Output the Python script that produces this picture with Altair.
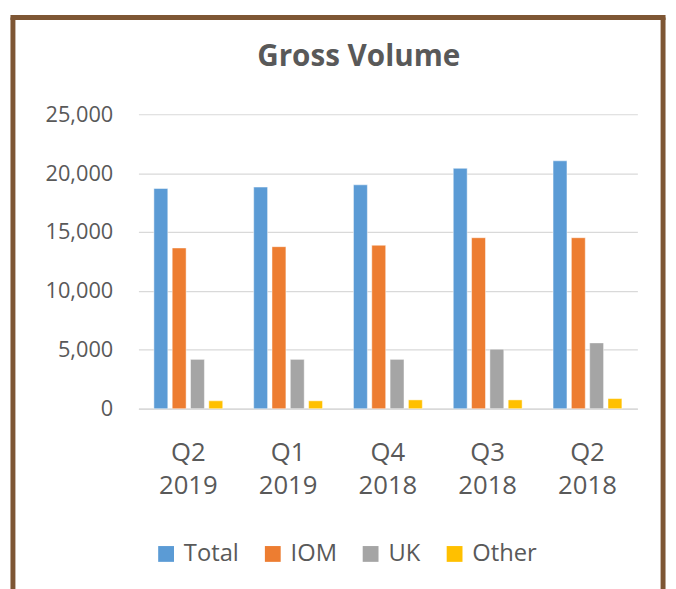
import altair as alt
import pandas as pd

quarters = ["Q2 2019", "Q1 2019", "Q4 2018", "Q3 2018", "Q2 2018"]
series = ["Total", "IOM", "UK", "Other"]
total = [18700, 18820, 19010, 20410, 21050]
iom = [13650, 13760, 13880, 14520, 14520]
uk = [4190, 4190, 4190, 5050, 5590]
other = [670, 670, 750, 750, 860]
colors = ["#5B9BD5", "#ED7D31", "#A5A5A5", "#FFC000"]
title_text = "Gross Volume"

rows = []
for i, q in enumerate(quarters):
    for s, vals in zip(series, [total, iom, uk, other]):
        rows.append({"quarter": q, "series": s, "value": vals[i]})
df = pd.DataFrame(rows)

W, H = 505, 298
FONT = "Open Sans"
TXT = "#595959"

bars = alt.Chart(df).mark_bar(stroke="white", strokeWidth=0.8, strokeOpacity=0.6).encode(
    x=alt.X("quarter:N", sort=quarters, title=None,
            scale=alt.Scale(paddingInner=0.31, paddingOuter=0.155),
            axis=alt.Axis(labelAngle=0, labelExpr="split(datum.label, ' ')",
                          labelFontSize=26, labelColor=TXT, labelFont=FONT,
                          labelPadding=31, labelLineHeight=34, ticks=False,
                          domainColor="#D9D9D9", domainWidth=1.5, grid=False)),
    xOffset=alt.XOffset("series:N", sort=series,
                        scale=alt.Scale(paddingInner=0.24, paddingOuter=0)),
    y=alt.Y("value:Q", title=None,
            scale=alt.Scale(domain=[0, 25000]),
            axis=alt.Axis(values=[0, 5000, 10000, 15000, 20000, 25000], format=",d",
                          labelFontSize=22, labelColor=TXT, labelFont=FONT,
                          labelPadding=26, ticks=False, domain=False,
                          gridColor="#D9D9D9", gridWidth=1.2)),
    color=alt.Color("series:N", sort=series,
                    scale=alt.Scale(domain=series, range=colors),
                    legend=alt.Legend(title=None, orient="none", direction="horizontal",
                                      legendX=16, legendY=433,
                                      symbolType="square", symbolSize=256,
                                      symbolStrokeWidth=0, labelFontSize=24,
                                      labelColor=TXT, labelFont=FONT,
                                      columnPadding=22, labelOffset=6)),
)

frame_df = pd.DataFrame({"a": [0]})
BROWN = "#7E5634"
left = alt.Chart(frame_df).mark_rule(color=BROWN, strokeWidth=5).encode(
    x=alt.value(-127), y=alt.value(-98), y2=alt.value(482))
right = alt.Chart(frame_df).mark_rule(color=BROWN, strokeWidth=5).encode(
    x=alt.value(531), y=alt.value(-98), y2=alt.value(482))
top = alt.Chart(frame_df).mark_rule(color=BROWN, strokeWidth=5).encode(
    x=alt.value(-129.5), x2=alt.value(533.5), y=alt.value(-98))

title = alt.Chart(pd.DataFrame({"t": [title_text]})).mark_text(
    fontSize=30, fontWeight="bold", color=TXT, font=FONT,
    align="center", baseline="alphabetic").encode(
    text="t:N", x=alt.value(223), y=alt.value(-49))

chart = alt.layer(bars, left, right, top, title).properties(
    width=W, height=H,
    padding={"top": 3, "left": 0, "right": 0, "bottom": 0},
).configure(background="white").configure_view(stroke=None)

chart.save("out.html", embed_options={"renderer": "svg", "actions": False})
